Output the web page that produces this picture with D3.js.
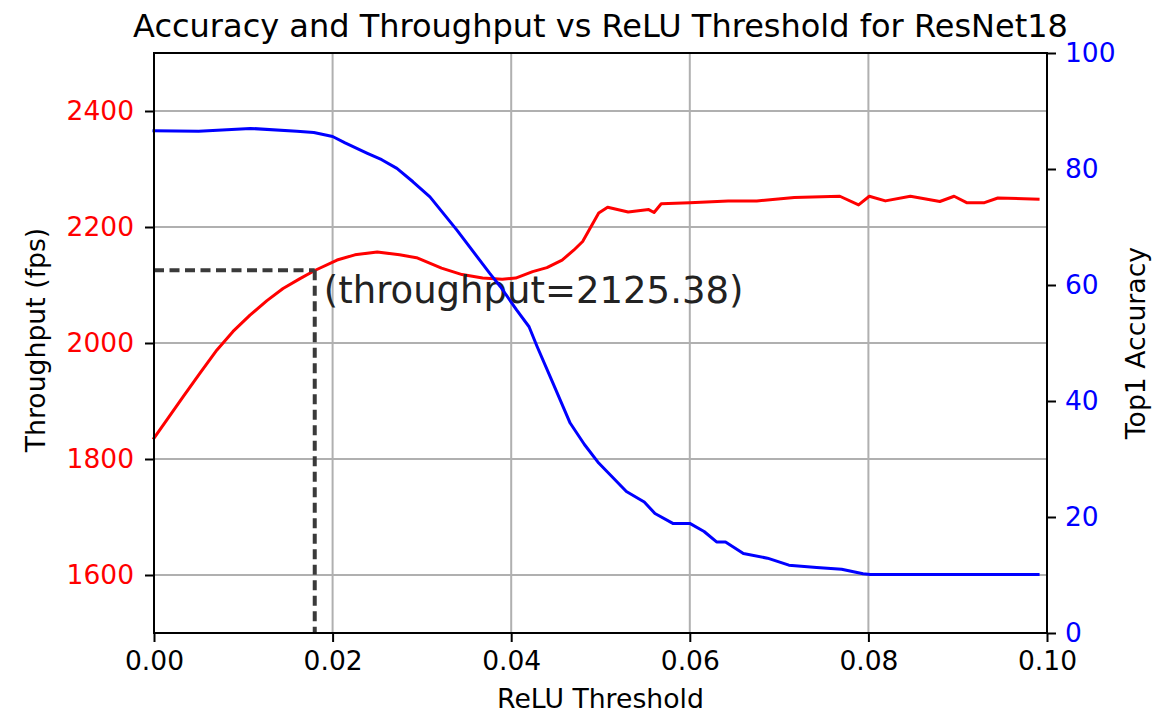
<!DOCTYPE html>
<html>
<head>
<meta charset="utf-8">
<script src="https://cdn.jsdelivr.net/npm/d3@7"></script>
<style>
  html, body { margin: 0; padding: 0; background: #fff; }
  svg text { font-family: "DejaVu Sans", sans-serif; }
</style>
</head>
<body>
<svg id="chart" width="1171" height="714"></svg>
<script>
// ---- Data ----
const title = "Accuracy and Throughput vs ReLU Threshold for ResNet18";
const xLabel = "ReLU Threshold";
const yLeftLabel = "Throughput (fps)";
const yRightLabel = "Top1 Accuracy";

const xTicks = [0.00, 0.02, 0.04, 0.06, 0.08, 0.10];
const yLeftTicks = [1600, 1800, 2000, 2200, 2400];
const yRightTicks = [0, 20, 40, 60, 80, 100];

const thrX = [0.0000, 0.00142, 0.00325, 0.00515, 0.00705, 0.00885, 0.01075, 0.01265, 0.01445, 0.01635,
              0.0180, 0.0205, 0.0225, 0.0250, 0.0275, 0.0294,
              0.0322, 0.0345, 0.0368, 0.0390, 0.0405, 0.0424, 0.0440, 0.0457, 0.0470, 0.0480,
              0.0498, 0.0508, 0.0531, 0.0554, 0.0560, 0.0568, 0.0600, 0.0643, 0.0675, 0.0717,
              0.0768, 0.0789, 0.0801, 0.0819, 0.0847, 0.0880, 0.0896, 0.0910, 0.0930, 0.0945, 0.0990];
const thrY = [1836, 1867, 1907, 1948, 1988, 2020, 2048, 2073, 2094, 2111,
              2125, 2143, 2152, 2157, 2152, 2147,
              2129, 2118, 2112, 2110, 2112, 2123, 2130, 2143, 2160, 2175,
              2224, 2234, 2226, 2230, 2225, 2240, 2242, 2245, 2245, 2251,
              2253, 2238, 2253, 2245, 2253, 2244, 2253, 2242, 2242, 2250, 2248];

const accX = [0.0000, 0.0050, 0.0108, 0.0160, 0.0179, 0.0200, 0.0214, 0.0239, 0.0255, 0.0272, 0.0290, 0.0309,
              0.0339, 0.0376, 0.0388, 0.0406, 0.0420, 0.0429, 0.0447, 0.0466, 0.0482, 0.0498, 0.0529,
              0.0549, 0.0561, 0.0581, 0.0600, 0.0616, 0.0630, 0.0640, 0.0660, 0.0687, 0.0711,
              0.0742, 0.0770, 0.0794, 0.0802, 0.0990];
const accY = [86.6, 86.5, 87.0, 86.5, 86.3, 85.6, 84.5, 82.7, 81.6, 80.1, 77.8, 75.2,
              69.5, 62.0, 59.7, 55.7, 52.8, 49.4, 43.0, 36.2, 32.5, 29.3, 24.4,
              22.6, 20.6, 18.9, 18.9, 17.5, 15.7, 15.7, 13.7, 12.9, 11.7,
              11.3, 11.0, 10.2, 10.1, 10.1];

const markX = [0.018];
const markY = [2125.38];

// ---- Layout ----
const svg = d3.select("#chart");
const L = 154, R = 1047, T = 53, B = 633;

const x = d3.scaleLinear().domain([0, 0.1]).range([L, R]);
const yL = d3.scaleLinear().domain([1500, 2500]).range([B, T]);
const yR = d3.scaleLinear().domain([0, 100]).range([B, T]);

const tickFont = 26.5;

// Grid (left axis + x)
const grid = svg.append("g");
grid.selectAll("line.gx").data(xTicks.slice(1, -1)).join("line")
  .attr("x1", d => x(d)).attr("x2", d => x(d)).attr("y1", T).attr("y2", B)
  .attr("stroke", "#b0b0b0").attr("stroke-width", 2);
grid.selectAll("line.gy").data(yLeftTicks).join("line")
  .attr("x1", L).attr("x2", R).attr("y1", d => yL(d)).attr("y2", d => yL(d))
  .attr("stroke", "#b0b0b0").attr("stroke-width", 2);

// Throughput line (red)
const lineThr = d3.line().x((d, i) => x(thrX[i])).y(d => yL(d));
svg.append("path").datum(thrY)
  .attr("d", lineThr).attr("fill", "none").attr("stroke", "#ff0000")
  .attr("stroke-width", 3).attr("stroke-linejoin", "round").attr("stroke-linecap", "square");

// Dashed marker lines
svg.append("line")
  .attr("x1", x(0)).attr("x2", x(markX[0])).attr("y1", yL(markY[0])).attr("y2", yL(markY[0]))
  .attr("stroke", "#3a3a3a").attr("stroke-width", 4).attr("stroke-dasharray", "10,5.5");
svg.append("line")
  .attr("x1", x(markX[0])).attr("x2", x(markX[0])).attr("y1", yL(markY[0])).attr("y2", yL(1500))
  .attr("stroke", "#3a3a3a").attr("stroke-width", 4).attr("stroke-dasharray", "10,5.5");

// Annotation
svg.append("text")
  .attr("x", x(markX[0]) + 9).attr("y", 302.5)
  .attr("font-size", 37).attr("fill", "#222")
  .text("(throughput=" + markY[0].toFixed(2) + ")");

// Accuracy line (blue)
const lineAcc = d3.line().x((d, i) => x(accX[i])).y(d => yR(d));
svg.append("path").datum(accY)
  .attr("d", lineAcc).attr("fill", "none").attr("stroke", "#0000ff")
  .attr("stroke-width", 3).attr("stroke-linejoin", "round").attr("stroke-linecap", "square");

// Axes
function styleAxis(g, color) {
  g.selectAll(".domain").remove();
  g.selectAll(".tick line").attr("stroke", "#000").attr("stroke-width", 2);
  g.selectAll(".tick text").attr("fill", color).attr("font-size", tickFont)
    .attr("font-family", "DejaVu Sans");
}

const gx = svg.append("g").attr("transform", `translate(0,${B})`)
  .call(d3.axisBottom(x).tickValues(xTicks).tickFormat(d3.format(".2f")).tickSize(9).tickPadding(9));
styleAxis(gx, "#000");

const gyl = svg.append("g").attr("transform", `translate(${L},0)`)
  .call(d3.axisLeft(yL).tickValues(yLeftTicks).tickFormat(d3.format("d")).tickSize(9).tickPadding(11));
styleAxis(gyl, "#ff0000");

const gyr = svg.append("g").attr("transform", `translate(${R},0)`)
  .call(d3.axisRight(yR).tickValues(yRightTicks).tickFormat(d3.format("d")).tickSize(9).tickPadding(9));
styleAxis(gyr, "#0000ff");

// Frame (spines)
svg.append("rect").attr("x", L).attr("y", T).attr("width", R - L).attr("height", B - T)
  .attr("fill", "none").attr("stroke", "#000").attr("stroke-width", 2);

// Labels
svg.append("text").attr("x", (L + R) / 2).attr("y", 37).attr("text-anchor", "middle")
  .attr("font-size", 32).attr("fill", "#000").text(title);
svg.append("text").attr("x", (L + R) / 2).attr("y", 708).attr("text-anchor", "middle")
  .attr("font-size", 26.7).attr("fill", "#000").text(xLabel);
svg.append("text").attr("transform", `translate(45,${(T + B) / 2 - 3}) rotate(-90)`)
  .attr("text-anchor", "middle").attr("font-size", 26.7).attr("fill", "#000").text(yLeftLabel);
svg.append("text").attr("transform", `translate(1145,${(T + B) / 2}) rotate(-90)`)
  .attr("text-anchor", "middle").attr("font-size", 26.7).attr("fill", "#000").text(yRightLabel);
</script>
</body>
</html>
